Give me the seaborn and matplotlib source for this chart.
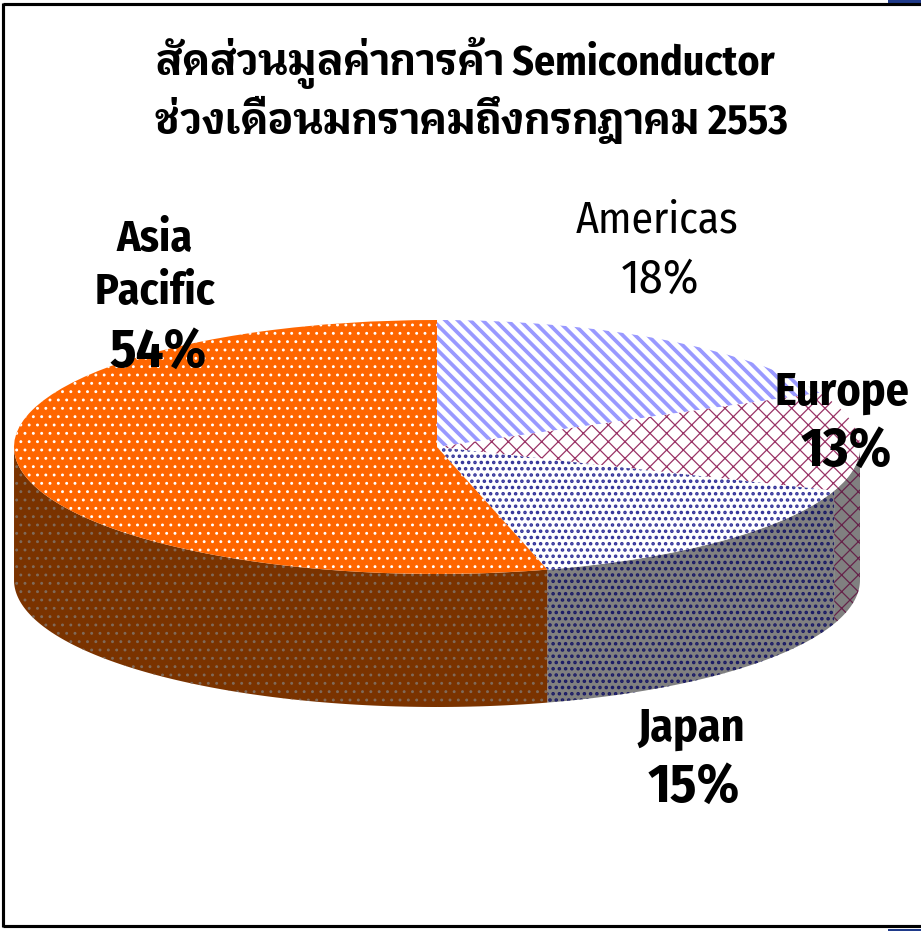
#!/usr/bin/env python3
import numpy as np
import matplotlib
matplotlib.use('Agg')
import matplotlib.pyplot as plt
import seaborn as sns
from matplotlib.lines import Line2D
from matplotlib.patches import Rectangle

title_lines = ['สัดส่วนมูลค่าการค้า Semiconductor', 'ช่วงเดือนมกราคมถึงกรกฎาคม 2553']
labels = ['Americas', 'Europe', 'Japan', 'Asia\nPacific']
values = [18.0, 12.6, 15.2, 54.2]
face_colors = ['#FFFFFF', '#FFFFFF', '#FFFFFF', '#FF6600']
hatch_colors = ['#9999FF', '#993366', '#333399', '#FFFFFF']
wall_faces = ['#808080', '#808080', '#808080', '#7A3300']
wall_hatch = ['#4C4C80', '#66224A', '#1A1A66', '#806A5A']
hatches = ['\\\\\\\\', 'xxx', '....', '...']
hatch_widths = [1.8, 0.6, 1.1, 0.6]

W, H, DPI = 921, 931, 150
CX, CY, RX, RY, DEPTH = 437, 447, 423, 127, 133

sns.set_theme(style='white')
plt.rcParams['font.family'] = ['Fira Sans Condensed', 'Krub', 'Liberation Sans', 'DejaVu Sans']


def main():
    fig = plt.figure(figsize=(W / DPI, H / DPI), dpi=DPI, facecolor='white')
    ax = fig.add_axes([0, 0, 1, 1])
    wedges, _ = ax.pie(values, startangle=90, counterclock=False, colors=face_colors,
                       hatch=hatches, wedgeprops={'linewidth': 0})
    ax.set_aspect('auto')
    ax.set_xlim(-CX / RX, (W - CX) / RX)
    ax.set_ylim(-(H - CY) / RY, CY / RY)
    depth = DEPTH / RY

    for i, w in enumerate(wedges):
        w.set_edgecolor(hatch_colors[i])
        w.set_hatch_linewidth(hatch_widths[i])
        w.set_zorder(3)
        t = np.radians(np.linspace(w.theta1, w.theta2, 240))
        t = np.sort(t[np.sin(t) <= 0])
        if len(t) == 0:
            continue
        xs = np.cos(t)
        ys = np.sin(t)
        px = np.r_[xs, xs[::-1]]
        py = np.r_[ys, ys[::-1] - depth]
        poly = ax.fill(px, py, facecolor=wall_faces[i], edgecolor=wall_hatch[i],
                       hatch=hatches[i], linewidth=0, zorder=2)[0]
        poly.set_hatch_linewidth(hatch_widths[i])

    # labels, in pixel positions of the picture
    def put(x, y, s, **kw):
        fig.text(x / W, 1 - y / H, s, ha='center', va='center', color='black',
                 linespacing=1.32, zorder=5, **kw)

    pct = [f'{v:.0f}%' for v in values]
    put(465, 63, title_lines[0], fontsize=20, fontweight='bold')
    put(471, 120, title_lines[1], fontsize=20, fontweight='bold')
    put(657, 221, labels[0], fontsize=21, fontweight='normal')
    put(660, 280, pct[0], fontsize=23, fontweight='normal')
    put(842, 393, labels[1], fontsize=22, fontweight='bold')
    put(846, 451, pct[1], fontsize=26, fontweight='bold')
    put(691, 729, labels[2], fontsize=22, fontweight='bold')
    put(694, 787, pct[2], fontsize=26, fontweight='bold')
    put(155, 266, labels[3], fontsize=21, fontweight='bold')
    put(158, 352, pct[3], fontsize=26, fontweight='bold')

    # frame has no right side, only bits of a blue band show at the corners
    for xs, ys in [((3, 3), (3, 927)), ((3, W), (4, 4)), ((3, W), (926, 926))]:
        fig.add_artist(Line2D([x / W for x in xs], [1 - y / H for y in ys], color='black',
                              linewidth=1.5, solid_capstyle='butt'))
    for y0, h in [(0, 3), (929, 2)]:
        fig.add_artist(Rectangle((888 / W, 1 - (y0 + h) / H), 33 / W, h / H, facecolor='#1F3A8A',
                                 edgecolor='none', transform=fig.transFigure))
    fig.savefig('out.png', dpi=DPI)


if __name__ == '__main__':
    main()
